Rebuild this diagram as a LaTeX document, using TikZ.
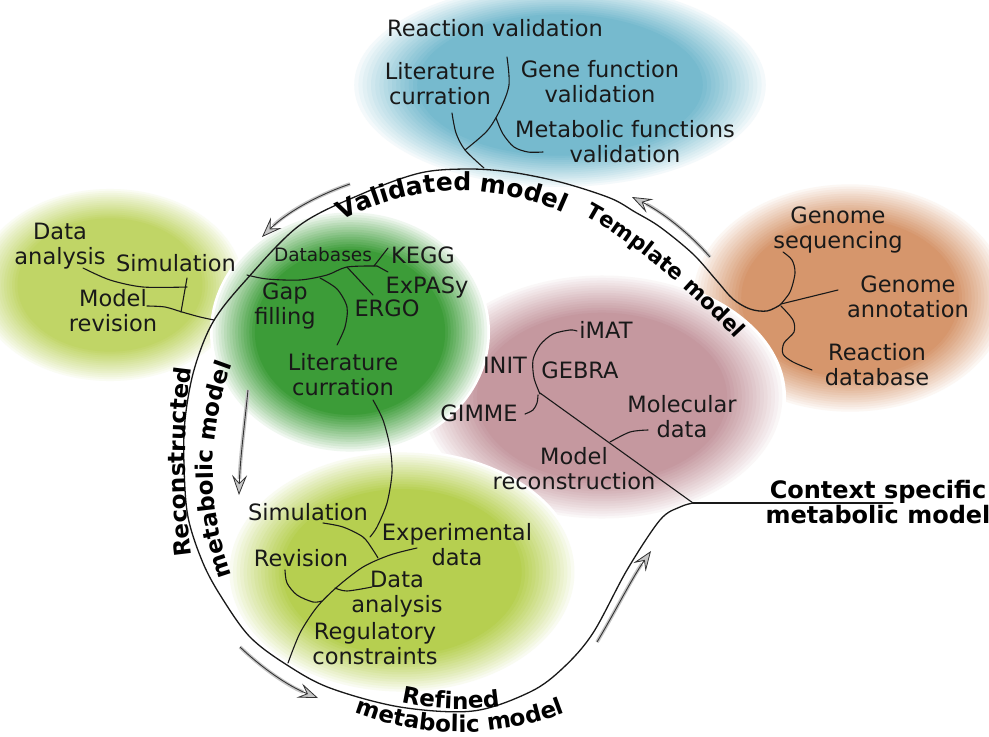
\documentclass[tikz,border=0pt]{standalone}
\usepackage{fontspec}
\setmainfont{DejaVu Sans}
\usetikzlibrary{arrows.meta,decorations.text,calc}

\definecolor{cblue}{RGB}{118,186,206}
\definecolor{corange}{RGB}{214,150,108}
\definecolor{cyg}{RGB}{192,213,102}
\definecolor{cdg}{RGB}{60,156,56}
\definecolor{cpink}{RGB}{197,152,159}
\definecolor{clg}{RGB}{182,207,80}

% soft-edged blob: stacked ellipses blending from white into the colour
\newcommand\softblob[5]{%
  \foreach \k in {0,...,16}{%
    \pgfmathsetmacro\fr{1-0.02*\k}%
    \pgfmathtruncatemacro\pc{100*(\k/16)^0.9}%
    \pgfmathsetmacro\rxx{\fr*#4}%
    \pgfmathsetmacro\ryy{\fr*#5}%
    \fill[#1!\pc!white] (#2,#3) ellipse [x radius=\rxx, y radius=\ryy];}}

\newcommand\reglab{\fontsize{22.5}{25}\selectfont}
\newcommand\boldlab{\fontsize{23}{26}\selectfont\bfseries}
\newcommand\vallab{\fontsize{25}{26}\selectfont\bfseries}
\newcommand\tmplab{\fontsize{21.5}{26}\selectfont\bfseries}

\begin{document}
\begin{tikzpicture}[x=1pt,y=1pt,
  lab/.style={font=\reglab, align=center, inner sep=0pt, text=black!90},
  smalllab/.style={font=\fontsize{18.5}{20}\selectfont, inner sep=0pt, text=black!90},
  ttl/.style={font=\fontsize{24}{25.5}\selectfont\bfseries, align=center, inner sep=0pt},
  ln/.style={draw=black!90, line width=1.1pt, line cap=round},
  mainln/.style={draw=black!90, line width=1.3pt, line cap=round},
  garrow/.style={draw=black!80, line width=0.9pt,
    -{Stealth[length=20pt,width=15pt,inset=8pt,fill=gray!45,line width=0.8pt]},
    preaction={draw=gray!45, line width=3.6pt, arrows=-, shorten >=16pt}},
  curvlab/.style={decorate, decoration={text along path, text={|\boldlab|#1}, text align=center}},
  valcurv/.style={decorate, decoration={text along path, text={|\vallab|#1}, text align=center}},
  tmpcurv/.style={decorate, decoration={text along path, text={|\tmplab|#1}, text align=center}}
]
\useasboundingbox (0,0) rectangle (989,-737);
\fill[white] (0,0) rectangle (989,-737);

\coordinate (C) at (460,-440);

% coloured blobs
\softblob{cyg}{110}{-285}{136}{98}
\softblob{cblue}{560}{-85}{210}{104}
\softblob{corange}{850}{-298}{160}{116}
\softblob{cpink}{602}{-397}{184}{124}
\softblob{clg}{402}{-572}{176}{122}
\softblob{cdg}{350}{-332}{140}{122}

% main cycle
\draw[mainln] plot[smooth, tension=0.55] coordinates {
  (780,-305) (767,-311) (750,-309) (733,-299) (717,-281) (693,-254) (660,-227)
  (635,-212) (610,-198) (560,-182) (510,-172) (467,-169) (420,-173) (364,-193)
  (300,-225) (246,-280) (213,-322) (194,-370) (185,-420) (184,-465) (188,-517)
  (203,-563) (222,-598) (250,-637) (287,-665) (330,-688) (400,-707) (473,-711)
  (530,-692) (563,-668) (593,-633) (627,-570) (660,-520) (680,-507) (693,-503)};
\coordinate (J) at (693,-503);
\coordinate (Jend) at (893,-503);
\coordinate (P) at (540,-393);
\draw[mainln] (J) -- (Jend);
\draw[ln] (J) -- (P);

% validation branches
\draw[ln] plot[smooth] coordinates {(452,-113) (456,-133) (465,-150) (484,-168)};
\draw[ln] plot[smooth] coordinates {(465,-150) (487,-131) (500,-110) (509,-85) (507,-57)};
\draw[ln] plot[smooth] coordinates {(496,-118) (503,-134) (514,-147) (528,-152) (543,-152)};

% template branches
\draw[ln] plot[smooth] coordinates {(780,-305) (790,-292) (795,-273) (792,-260) (783,-252)};
\draw[ln] (781,-304) -- (838,-290);
\draw[ln] plot[smooth] coordinates {(781,-306) (793,-320) (794,-332) (784,-343) (783,-354) (793,-362) (812,-370)};

% left analysis branches
\draw[ln] plot[smooth] coordinates {(83,-268) (110,-280) (143,-287) (187,-287)};
\draw[ln] (187,-278) -- (181,-312);
\draw[ln] plot[smooth] coordinates {(147,-306) (165,-307) (182,-312) (200,-317) (214,-320)};

% reconstruction branches
\draw[ln] plot[smooth] coordinates {(247,-275) (267,-279) (300,-280) (327,-275) (347,-267) (377,-266)};
\draw[ln] (374,-266) -- (388,-248);
\draw[ln] (377,-266) -- (388,-272);
\draw[ln] (347,-267) -- (373,-295);
\draw[ln] plot[smooth] coordinates {(320,-278) (337,-289) (347,-307) (345,-327) (337,-345)};
\draw[ln] plot[smooth] coordinates {(373,-400) (383,-420) (390,-447) (392,-473) (387,-503) (377,-527) (370,-537)};

% refinement branches
\draw[ln] plot[smooth] coordinates {(288,-663) (300,-633) (317,-607) (337,-587) (363,-567) (390,-555) (417,-548)};
\draw[ln] plot[smooth] coordinates {(323,-523) (343,-527) (363,-537) (373,-550) (378,-558)};
\draw[ln] plot[smooth] coordinates {(285,-570) (287,-583) (297,-595) (313,-602) (322,-601)};
\draw[ln] plot[smooth] coordinates {(335,-588) (347,-591) (372,-587)};

% context specific branches
\draw[ln] plot[smooth] coordinates {(540,-394) (534,-378) (533,-360) (540,-345) (553,-334) (570,-330) (577,-331)};
\draw[ln] plot[smooth] coordinates {(538,-395) (537,-403) (533,-410) (525,-414)};
\draw[ln] plot[smooth] coordinates {(610,-442) (630,-432) (648,-430)};

% direction arrows
\draw[garrow] (350,-184) .. controls (315,-196) and (285,-214) .. (262,-237);
\draw[garrow] (710,-257) .. controls (688,-232) and (662,-212) .. (632,-197);
\draw[garrow] (248,-390) .. controls (244,-430) and (240,-460) .. (239,-495);
\draw[garrow] (240,-647) .. controls (262,-668) and (288,-686) .. (318,-698);
\draw[garrow] (597,-642) .. controls (615,-612) and (632,-578) .. (651,-551);

% curved stage labels
\path[valcurv={Validated model}] ($(C)+(132:249)$) arc[start angle=132, end angle=52, radius=249];
\path[tmpcurv={Template model}] (569,-208) .. controls (619,-229) and (699,-297) .. (747,-352);
\path[curvlab={Reconstructed}] ($(901,-462)+(190:716)$) arc[start angle=190, end angle=170, radius=716];
\path[curvlab={metabolic model}] ($(513,-470)+(204:300)$) arc[start angle=204, end angle=156, radius=300];
\path[curvlab={Refined}] ($(C)+(248:269)$) arc[start angle=248, end angle=288, radius=269];
\path[curvlab={metabolic model}] ($(C)+(246:292)$) arc[start angle=246, end angle=294, radius=292];

% texts: validation
\node[lab] (rv) at (495,-28) {Reaction validation};
\node[lab] (lc1) at (440,-84) {Literature\\curration};
\node[lab] (gfv) at (600,-82) {Gene function\\validation};
\node[lab] (mfv) at (625,-142) {Metabolic functions\\validation};

% texts: template
\node[lab] (gs) at (838,-230) {Genome\\sequencing};
\node[lab] (ga) at (908,-297) {Genome\\annotation};
\node[lab] (rd) at (877,-365) {Reaction\\database};

% texts: left analysis
\node[lab] (da) at (60,-246) {Data\\analysis};
\node[lab] (s1) at (176,-263) {Simulation};
\node[lab] (mr) at (113,-311) {Model\\revision};

% texts: reconstruction
\node[smalllab] (db) at (323,-255) {Databases};
\node[lab] (kegg) at (423,-255) {KEGG};
\node[lab] (exp) at (427,-287) {ExPASy};
\node[lab] (gap) at (285,-306) {Gap\\filling};
\node[lab] (ergo) at (387,-308) {ERGO};
\node[lab] (lc2) at (343,-375) {Literature\\curration};

% texts: refinement
\node[lab] (s2) at (308,-512) {Simulation};
\node[lab] (ed) at (457,-545) {Experimental\\data};
\node[lab] (rev) at (301,-558) {Revision};
\node[lab] (dan) at (397,-594) {Data\\analysis};
\node[lab] (reg) at (375,-644) {Regulatory\\constraints};

% texts: context specific
\node[lab] (imat) at (606,-330) {iMAT};
\node[lab] (init) at (505,-365) {INIT};
\node[lab] (gebra) at (580,-370) {GEBRA};
\node[lab] (gimme) at (479,-413) {GIMME};
\node[lab] (mol) at (682,-417) {Molecular\\data};
\node[lab] (mrec) at (574,-469) {Model\\reconstruction};

\node[ttl] (ctx) at (878,-502) {Context specific\\metabolic model};
\end{tikzpicture}
\end{document}
